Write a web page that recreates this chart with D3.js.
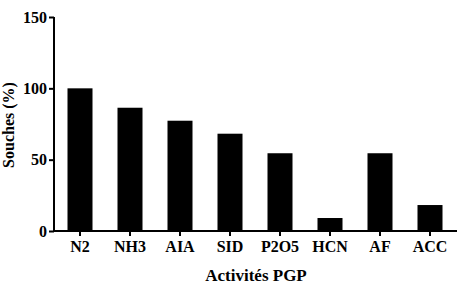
<!DOCTYPE html>
<html>
<head>
<meta charset="utf-8">
<script src="https://cdn.jsdelivr.net/npm/d3@7"></script>
<style>
  body { margin: 0; background: #fff; }
</style>
</head>
<body>
<svg id="chart" width="461" height="287"></svg>
<script>
const categories = ['N2', 'NH3', 'AIA', 'SID', 'P2O5', 'HCN', 'AF', 'ACC']
const values = [100, 86.4, 77.3, 68.2, 54.5, 9.1, 54.5, 18.2]
const yTicks = [0, 50, 100, 150]

const svg = d3.select('#chart')
const x0 = 55, x1 = 457, yTop = 17, yBottom = 231

const x = d3.scaleBand().domain(categories).range([x0, x0 + 400]).paddingInner(0.5).paddingOuter(0.25)
const y = d3.scaleLinear().domain([0, 150]).range([yBottom, yTop])

// bars
svg.selectAll('.bar').data(values).enter().append('rect')
  .attr('x', (d, i) => x(categories[i]))
  .attr('y', d => y(d))
  .attr('width', x.bandwidth())
  .attr('height', d => yBottom - y(d))
  .attr('fill', '#000')

// y axis
const yAxis = svg.append('g').attr('transform', `translate(${x0 - 1},0)`)
  .call(d3.axisLeft(y).tickValues(yTicks).tickSize(5).tickPadding(2))
yAxis.select('.domain').attr('stroke-width', 2).attr('d', `M0,${yTop}V${yBottom + 1}`)
yAxis.selectAll('line').attr('stroke-width', 2)

// x axis
const xAxis = svg.append('g').attr('transform', `translate(0,${yBottom})`)
  .call(d3.axisBottom(x).tickSize(5).tickPadding(5))
xAxis.select('.domain').attr('stroke-width', 2).attr('d', `M${x0 - 2},0H${x1}`)
xAxis.selectAll('line').attr('stroke-width', 2)

svg.selectAll('g').attr('font-family', null).attr('font-size', null)
svg.selectAll('text').style('font-size', '16px')

// axis titles
svg.append('text').attr('x', 256).attr('y', 281).attr('text-anchor', 'middle')
  .style('font-size', '17px').text('Activités PGP')
svg.append('text').attr('transform', 'translate(14,125) rotate(-90)').attr('text-anchor', 'middle')
  .style('font-size', '16px').text('Souches (%)')

svg.selectAll('text')
  .style('font-family', '"Liberation Serif", serif')
  .style('font-weight', '700')
  .attr('fill', '#000')
</script>
</body>
</html>
